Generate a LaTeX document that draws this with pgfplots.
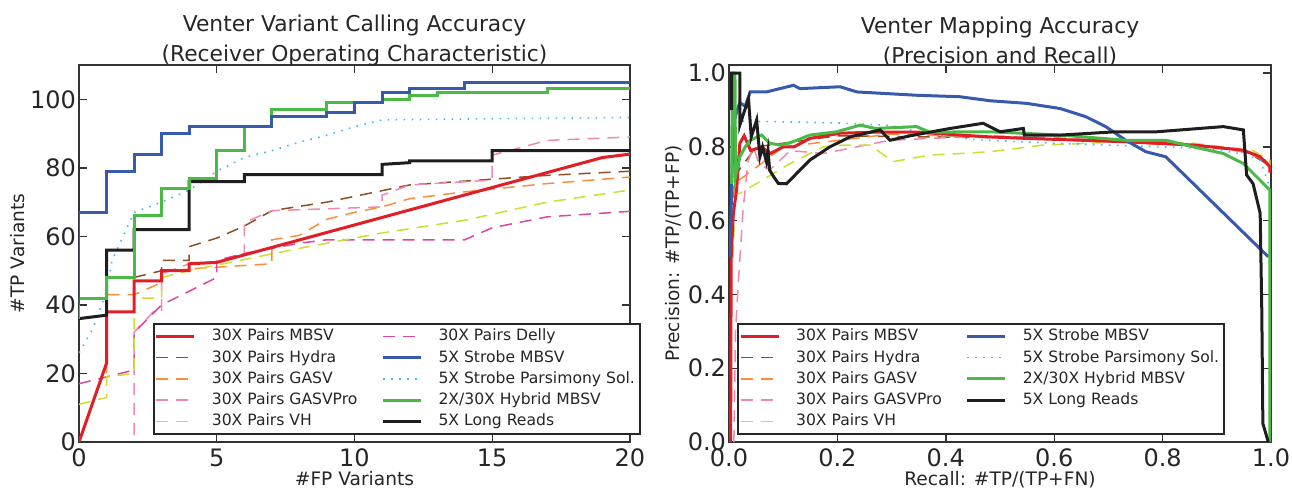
\documentclass[border=0pt]{standalone}
\usepackage{fontspec}
\setmainfont{DejaVu Sans}
\usepackage{pgfplots}
\pgfplotsset{compat=1.18}

\definecolor{cMBSV}{RGB}{225,30,38}
\definecolor{cHydra}{RGB}{140,80,30}
\definecolor{cGASV}{RGB}{253,141,60}
\definecolor{cGASVPro}{RGB}{240,135,180}
\definecolor{cDelly}{RGB}{220,70,160}
\definecolor{cVH}{RGB}{208,220,50}
\definecolor{cStrobe}{RGB}{55,90,170}
\definecolor{cPars}{RGB}{60,190,240}
\definecolor{cHybrid}{RGB}{75,185,70}
\definecolor{cLong}{RGB}{30,30,30}

\pgfplotsset{
  legend image code/.code={\draw[#1] (0pt,0pt) -- (19pt,0pt);},
  sMBSV/.style={color=cMBSV, line width=1.5pt},
  sHydra/.style={color=cHydra, line width=0.75pt, dash pattern=on 6pt off 4pt},
  sGASV/.style={color=cGASV, line width=0.75pt, dash pattern=on 6pt off 4pt},
  sGASVPro/.style={color=cGASVPro, line width=0.75pt, dash pattern=on 6pt off 4pt},
  sDelly/.style={color=cDelly, line width=0.75pt, dash pattern=on 6pt off 4pt},
  sVH/.style={color=cVH, line width=0.75pt, dash pattern=on 6pt off 4pt},
  sStrobe/.style={color=cStrobe, line width=1.5pt},
  sPars/.style={color=cPars, line width=0.8pt, dash pattern=on 0.8pt off 3.2pt},
  sHybrid/.style={color=cHybrid, line width=1.5pt},
  sLong/.style={color=cLong, line width=1.5pt},
  venter/.style={
    scale only axis, height=188.5pt,
    axis line style={black!80, line width=0.9pt},
    tick style={black!80, line width=0.7pt},
    major tick length=4pt,
    tick label style={font=\fontsize{12}{14}\selectfont, text=black!85},
    yticklabel style={xshift=2pt},
    label style={font=\fontsize{9.3}{11}\selectfont, text=black!85},
    xlabel shift=-5pt,
    ylabel shift=-4pt,
    title style={font=\fontsize{10.9}{14.7}\selectfont, text=black!85, align=center, yshift=-10pt},
    /pgf/number format/assume math mode=true,
    no markers,
    legend columns=2,
    legend cell align=left,
    legend style={draw=black!85, line width=1pt, fill=white,
      font=\fontsize{7.8}{9}\selectfont, text=black!85,
      inner sep=0.5pt, row sep=-0.8pt,
      /tikz/every odd column/.append style={column sep=6pt},
      /tikz/every even column/.append style={column sep=10pt}},
  },
}

\begin{document}
\begin{tikzpicture}
\useasboundingbox (0,0) rectangle (646pt,246.5pt);

% ROC
\begin{axis}[venter,
  at={(39.5pt,25.5pt)}, anchor=south west, width=275.5pt,
  xmin=0, xmax=20, ymin=0, ymax=110,
  xtick={0,5,10,15,20}, ytick={0,20,40,60,80,100},
  xlabel={\#FP Variants}, ylabel={\#TP Variants},
  title={Venter Variant Calling Accuracy\\(Receiver Operating Characteristic)},
  legend style={at={(0.134,0.019)}, anchor=south west},
]
\addplot[sHydra, forget plot] coordinates {(2,48)(3,50)(3,53)(4,53)(4,57)(5,59.5)(6,63)(7,67.5)(9,70)(12,75)(17,77.8)(20,79)};
\addplot[sGASV, forget plot] coordinates {(1,20)(1,43)(2,43)(3,46.5)(3,49.5)(4,50.5)(5,51)(7,52)(7,59)(8,60.3)(9,65)(10,67)(11,68.6)(12,71)(14,73)(17,75.4)(20,77.3)};
\addplot[sGASVPro, forget plot] coordinates {(2,2)(2,32)(2.7,38)(3,38)(3,49)(4,52)(5,52.6)(6,55)(6,64)(7,67.5)(11,68.6)(11,72)(12,75)(15,76.4)(15,83.7)(17,88)(20,89)};
\addplot[sDelly, forget plot] coordinates {(0,17)(1,19)(2,21)(2,32)(3,40)(5,48)(5,53)(6,55)(8,58)(9,59)(14,59)(15,62.5)(17,65.7)(20,67.3)};
\addplot[sVH, forget plot] coordinates {(0,11)(1,13)(1,19)(2,20)(2,42)(3,42)(3,48)(4,50)(5,51.6)(8,56.5)(11,61)(14,64.7)(17,70)(20,73.5)};
\addplot[sPars, forget plot] coordinates {(0,26)(0.5,33)(1,44)(1.2,53)(2,67)(3,70)(4,73.5)(5,79)(6,83)(7,85)(8,87.5)(9,89.5)(10,92)(11,94)(20,94.7)};
\addplot[sMBSV, forget plot] coordinates {(0,0)(1,23)(1,38)(2,38)(2,47)(3,47)(3,50)(4,50)(4,52)(5,52.4)(19,83)(20,84)};
\addplot[sLong, forget plot] coordinates {(0,36)(1,37)(1,56)(2,56)(2,62)(4,62)(4,76)(6,76)(6,78)(11,78)(11,81)(12,81.5)(12,82)(15,82)(15,85)(20,85)};
\addplot[sHybrid, forget plot] coordinates {(0,36)(0,42)(1,42)(1,48)(2,48)(2,66)(3,66)(3,74)(4,74)(4,77)(5,77)(5,85)(6,85)(6,92)(7,92)(7,97)(9,97)(9,99)(11,99)(11,100)(12,100)(12,101)(13,101)(13,102)(17,102)(17,103)(20,103)};
\addplot[sStrobe, forget plot] coordinates {(0,40)(0,67)(1,67)(1,79)(2,79)(2,84)(3,84)(3,90)(4,90)(4,92)(7,92)(7,95)(9,95)(9,96)(10,96)(10,99)(11,99)(11,102)(12,102)(12,103)(14,103)(14,105)(20,105)};
\addlegendimage{sMBSV}\addlegendentry{30X Pairs MBSV}
\addlegendimage{sDelly}\addlegendentry{30X Pairs Delly}
\addlegendimage{sHydra}\addlegendentry{30X Pairs Hydra}
\addlegendimage{sStrobe}\addlegendentry{5X Strobe MBSV}
\addlegendimage{sGASV}\addlegendentry{30X Pairs GASV}
\addlegendimage{sPars}\addlegendentry{5X Strobe Parsimony Sol.}
\addlegendimage{sGASVPro}\addlegendentry{30X Pairs GASVPro}
\addlegendimage{sHybrid}\addlegendentry{2X/30X Hybrid MBSV}
\addlegendimage{sVH}\addlegendentry{30X Pairs VH}
\addlegendimage{sLong}\addlegendentry{5X Long Reads}
\end{axis}

% Precision / recall
\begin{axis}[venter,
  at={(364.5pt,25.5pt)}, anchor=south west, width=271pt,
  xmin=0, xmax=1, ymin=0, ymax=1.022,
  xtick={0,0.2,0.4,0.6,0.8,1}, ytick={0,0.2,0.4,0.6,0.8,1},
  xticklabel style={/pgf/number format/.cd, fixed, fixed zerofill, precision=1},
  yticklabel style={/pgf/number format/.cd, fixed, fixed zerofill, precision=1},
  xlabel={Recall: \#TP/(TP+FN)}, ylabel={Precision: \#TP/(TP+FP)},
  title={Venter Mapping Accuracy\\(Precision and Recall)},
  legend style={at={(0.015,0.019)}, anchor=south west},
]
\addplot[sHydra, forget plot] coordinates {(0.006,0.5)(0.01,0.72)(0.05,0.8)(0.2,0.83)(0.5,0.825)(0.8,0.81)(0.95,0.79)(0.998,0.75)};
\addplot[sGASV, forget plot] coordinates {(0.006,0.5)(0.01,0.7)(0.1,0.8)(0.3,0.835)(0.6,0.82)(0.9,0.80)(0.98,0.78)(0.998,0.75)};
\addplot[sGASVPro, forget plot] coordinates {(0.009,0.0)(0.012,0.3)(0.018,0.45)(0.026,0.63)(0.035,0.76)(0.045,0.80)(0.055,0.756)(0.075,0.737)(0.113,0.79)(0.174,0.782)(0.236,0.80)(0.297,0.818)(0.48,0.83)(0.6,0.825)(0.8,0.81)(0.9,0.80)(0.95,0.785)(0.98,0.77)(0.998,0.74)};
\addplot[sVH, forget plot] coordinates {(0.008,0.5)(0.011,0.674)(0.02,0.674)(0.051,0.701)(0.113,0.755)(0.174,0.80)(0.211,0.805)(0.26,0.805)(0.303,0.76)(0.371,0.778)(0.426,0.782)(0.482,0.787)(0.58,0.805)(0.732,0.814)(0.857,0.81)(0.967,0.79)(0.998,0.764)(0.998,0.72)};
\addplot[sPars, forget plot] coordinates {(0.01,0.87)(0.1,0.868)(0.2,0.865)(0.3,0.858)(0.35,0.84)(0.45,0.82)(0.6,0.81)(0.8,0.80)(0.887,0.796)(0.95,0.78)(0.98,0.764)(0.998,0.69)};
\addplot[sMBSV, forget plot] coordinates {(0.003,0.0)(0.004,0.5)(0.008,0.62)(0.014,0.683)(0.02,0.81)(0.028,0.83)(0.04,0.79)(0.06,0.80)(0.076,0.782)(0.1,0.80)(0.12,0.80)(0.149,0.823)(0.205,0.837)(0.267,0.84)(0.35,0.84)(0.426,0.832)(0.482,0.827)(0.549,0.823)(0.732,0.814)(0.857,0.805)(0.949,0.791)(0.98,0.773)(0.998,0.746)(0.998,0.73)};
\addplot[sStrobe, forget plot] coordinates {(0.002,0.5)(0.005,0.7)(0.008,0.86)(0.015,0.90)(0.02,0.92)(0.03,0.91)(0.039,0.949)(0.069,0.949)(0.119,0.967)(0.131,0.958)(0.205,0.963)(0.236,0.949)(0.346,0.94)(0.426,0.936)(0.482,0.925)(0.549,0.918)(0.611,0.904)(0.658,0.882)(0.695,0.855)(0.732,0.818)(0.769,0.787)(0.806,0.773)(0.995,0.502)};
\addplot[sHybrid, forget plot] coordinates {(0.005,0.7)(0.006,1.0)(0.011,1.0)(0.012,0.719)(0.02,0.773)(0.03,0.80)(0.039,0.818)(0.06,0.832)(0.075,0.81)(0.094,0.805)(0.11,0.81)(0.125,0.818)(0.149,0.832)(0.199,0.841)(0.242,0.859)(0.27,0.85)(0.346,0.855)(0.37,0.84)(0.482,0.841)(0.611,0.832)(0.732,0.818)(0.806,0.818)(0.857,0.80)(0.912,0.782)(0.949,0.755)(0.998,0.683)(0.998,0.0)};
\addplot[sLong, forget plot] coordinates {(0.005,0.9)(0.005,1.0)(0.02,1.0)(0.02,0.859)(0.036,0.931)(0.041,0.827)(0.051,0.873)(0.057,0.773)(0.062,0.80)(0.069,0.76)(0.072,0.79)(0.075,0.737)(0.082,0.72)(0.091,0.701)(0.106,0.70)(0.149,0.764)(0.186,0.80)(0.223,0.827)(0.279,0.846)(0.297,0.818)(0.334,0.83)(0.408,0.85)(0.469,0.864)(0.5,0.841)(0.543,0.85)(0.545,0.832)(0.611,0.832)(0.714,0.841)(0.79,0.841)(0.842,0.847)(0.912,0.855)(0.949,0.846)(0.955,0.724)(0.967,0.70)(0.98,0.62)(0.983,0.358)(0.985,0.05)(0.995,0.0)};
\addlegendimage{sMBSV}\addlegendentry{30X Pairs MBSV}
\addlegendimage{sStrobe}\addlegendentry{5X Strobe MBSV}
\addlegendimage{sHydra}\addlegendentry{30X Pairs Hydra}
\addlegendimage{sPars}\addlegendentry{5X Strobe Parsimony Sol.}
\addlegendimage{sGASV}\addlegendentry{30X Pairs GASV}
\addlegendimage{sHybrid}\addlegendentry{2X/30X Hybrid MBSV}
\addlegendimage{sGASVPro}\addlegendentry{30X Pairs GASVPro}
\addlegendimage{sLong}\addlegendentry{5X Long Reads}
\addlegendimage{sVH}\addlegendentry{30X Pairs VH}
\end{axis}
\end{tikzpicture}
\end{document}
